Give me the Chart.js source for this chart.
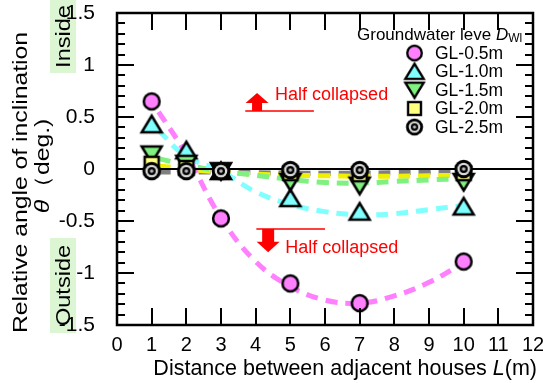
<!DOCTYPE html>
<html><head><meta charset="utf-8">
<script src="https://cdn.jsdelivr.net/npm/chart.js@4.4.0/dist/chart.umd.min.js"></script>
<style>html,body{margin:0;padding:0;background:#fff}canvas{display:block}</style>
</head><body>
<canvas id="c" width="543" height="383"></canvas>
<script>
// ---- data ----
const distances = [1, 2, 3, 5, 7, 10];
const gl05 = [0.65, null, -0.475, -1.10, -1.29, -0.89];
const gl10 = [0.43, 0.18, -0.02, -0.28, -0.41, -0.36];
const gl15 = [0.14, 0.05, -0.02, -0.125, -0.16, -0.125];
const gl20 = [0.05, 0.01, -0.02, -0.04, -0.05, -0.04];
const gl25 = [-0.02, -0.02, -0.02, -0.01, -0.01, 0.0];

// dashed trend curves
const fitX = [1.2, 2, 3, 4, 5, 6, 7, 8, 9, 10];
const fit05 = [0.55, 0.14, -0.47, -0.89, -1.13, -1.26, -1.29, -1.22, -1.09, -0.90];
const fit10 = [0.37, 0.12, -0.02, -0.22, -0.34, -0.41, -0.44, -0.43, -0.39, -0.35];
const fit15 = [0.10, 0.04, -0.02, -0.06, -0.10, -0.13, -0.135, -0.12, -0.105, -0.09];
const fit20 = [0.03, 0.00, -0.03, -0.05, -0.06, -0.065, -0.07, -0.07, -0.065, -0.06];
const fit25 = [-0.03, -0.03, -0.03, -0.035, -0.04, -0.04, -0.04, -0.035, -0.03, -0.025];

const seriesLabels = ['GL-0.5m', 'GL-1.0m', 'GL-1.5m', 'GL-2.0m', 'GL-2.5m'];
const xTicks = [0, 1, 2, 3, 4, 5, 6, 7, 8, 9, 10, 11, 12];
const yTicks = [-1.5, -1, -0.5, 0, 0.5, 1, 1.5];
const annoText = 'Half collapsed';

const FONT = '"Liberation Sans", Arial, Helvetica, sans-serif';

function makeMarker(kind, fill) {
  const s = 30, c = s / 2;
  const cv = document.createElement('canvas'); cv.width = s; cv.height = s;
  const g = cv.getContext('2d');
  g.lineWidth = 2.5; g.strokeStyle = '#000'; g.fillStyle = fill; g.lineJoin = 'miter';
  if (kind === 'target') {
    g.fillStyle = '#000'; g.beginPath(); g.arc(c, c, 9.3, 0, Math.PI * 2); g.fill();
    g.fillStyle = '#d8d8d8'; g.beginPath(); g.arc(c, c, 6.3, 0, Math.PI * 2); g.fill();
    g.fillStyle = '#000'; g.beginPath(); g.arc(c, c, 4.0, 0, Math.PI * 2); g.fill();
    g.fillStyle = '#b8b8b8'; g.beginPath(); g.arc(c, c, 1.8, 0, Math.PI * 2); g.fill();
    return cv;
  }
  g.beginPath();
  if (kind === 'circle') g.arc(c, c, 7.9, 0, Math.PI * 2);
  else if (kind === 'tri') { g.moveTo(c, c - 8.5); g.lineTo(c + 10, c + 8); g.lineTo(c - 10, c + 8); g.closePath(); }
  else if (kind === 'dtri') { g.moveTo(c, c + 8.5); g.lineTo(c + 10, c - 8); g.lineTo(c - 10, c - 8); g.closePath(); }
  else if (kind === 'square') g.rect(c - 7, c - 7, 14, 14);
  g.fill(); g.stroke();
  return cv;
}

const markerColors = ['#ff80ff', '#80ffff', '#80f080', '#ffff80', '#000'];
const lineColors = ['#ff80ff', '#80ffff', '#80f080', '#f0f000', '#808080'];
const kinds = ['circle', 'tri', 'dtri', 'square', 'target'];
const markers = kinds.map((k, i) => makeMarker(k, markerColors[i]));
const series = [gl05, gl10, gl15, gl20, gl25];
const fits = [fit05, fit10, fit15, fit20, fit25];

const datasets = [];
series.forEach((arr, i) => {
  datasets.push({
    label: seriesLabels[i],
    data: distances.map((x, j) => ({ x: x, y: arr[j] })).filter(p => p.y !== null),
    showLine: false, pointStyle: markers[i], pointRadius: 9, order: 5 - i
  });
});
fits.forEach((arr, i) => {
  datasets.push({
    label: seriesLabels[i] + ' fit',
    data: fitX.map((x, j) => ({ x: x, y: arr[j] })),
    borderColor: lineColors[i], borderWidth: 5, borderDash: [12, 8], borderCapStyle: 'butt',
    pointRadius: 0, tension: 0.4, fill: false, order: 100 + i
  });
});
datasets.push({
  label: 'zero', data: [{ x: 0, y: 0 }, { x: 12, y: 0 }],
  borderColor: '#000', borderWidth: 2, pointRadius: 0, order: 50
});

function drawParts(ctx, parts, x, y, align) {
  let w = 0;
  parts.forEach(p => { ctx.font = p.font; w += ctx.measureText(p.text).width; });
  let cx = align === 'right' ? x - w : (align === 'center' ? x - w / 2 : x);
  parts.forEach(p => {
    ctx.font = p.font;
    ctx.fillText(p.text, cx, y + (p.dy || 0));
    cx += ctx.measureText(p.text).width;
  });
  return w;
}
function partsWidth(ctx, parts) {
  let w = 0; parts.forEach(p => { ctx.font = p.font; w += ctx.measureText(p.text).width; }); return w;
}

const decor = {
  id: 'decor',
  beforeDraw(chart) {
    const ctx = chart.ctx;
    ctx.save();
    ctx.fillStyle = '#dcf6d4';
    ctx.fillRect(50, 0, 26, 73);
    ctx.fillRect(50, 238, 26, 95);
    ctx.restore();
  },
  afterDraw(chart) {
    const ctx = chart.ctx, a = chart.chartArea, xs = chart.scales.x, ys = chart.scales.y;
    ctx.save();
    ctx.strokeStyle = '#000'; ctx.fillStyle = '#000';
    // ticks
    ctx.lineWidth = 2;
    ctx.beginPath();
    xTicks.forEach(v => {
      const px = Math.round(xs.getPixelForValue(v));
      ctx.moveTo(px, a.bottom); ctx.lineTo(px, a.bottom - 17);
      ctx.moveTo(px, a.top); ctx.lineTo(px, a.top + 17);
    });
    for (let k = -15; k <= 15; k++) {
      const v = k / 10;
      const py = Math.round(ys.getPixelForValue(v));
      const len = (k % 5 === 0) ? 17 : 8;
      ctx.moveTo(a.left, py); ctx.lineTo(a.left + len, py);
      ctx.moveTo(a.right, py); ctx.lineTo(a.right - len, py);
    }
    ctx.stroke();
    // frame
    ctx.lineWidth = 2.5;
    ctx.strokeRect(a.left, a.top, a.right - a.left, a.bottom - a.top);

    // x title
    ctx.textBaseline = 'middle';
    const xf = '21.5px ' + FONT, xfi = 'italic 21.5px ' + FONT;
    drawParts(ctx, [{ text: 'Distance between adjacent houses ', font: xf }, { text: 'L', font: xfi }, { text: '(m)', font: xf }], 537, 369, 'right');

    // y title (rotated)
    const yf = '21px ' + FONT, yfi = 'italic 21px ' + FONT;
    const line1 = [{ text: 'Relative angle of inclination', font: yf }];
    const line2 = [{ text: 'θ', font: yfi }, { text: '（deg.)', font: yf }];
    const k = 301 / partsWidth(ctx, line1);
    function rotated(parts, cx, cy) {
      ctx.save();
      ctx.translate(cx, cy); ctx.rotate(-Math.PI / 2); ctx.scale(k, 1);
      ctx.textBaseline = 'middle';
      drawParts(ctx, parts, 0, 1, 'center');
      ctx.restore();
    }
    rotated(line1, 20, 182.5);
    rotated(line2, 42, 166);
    const bf = '20px ' + FONT;
    rotated([{ text: 'Inside', font: bf }], 63, 36.5);
    rotated([{ text: 'Outside', font: bf }], 63, 285.5);

    // legend
    ctx.fillStyle = '#000';
    const lf = '17.5px ' + FONT;
    drawParts(ctx, [{ text: 'Groundwater leve ', font: '17px ' + FONT }, { text: 'D', font: 'italic 17px ' + FONT }, { text: 'Wl', font: '12px ' + FONT, dy: 4 }], 357, 35, 'left');
    seriesLabels.forEach((lab, i) => {
      const yy = 53 + i * 18.5;
      const m = markers[i], sc = 0.92;
      ctx.drawImage(m, 414.5 - m.width * sc / 2, yy - m.height * sc / 2, m.width * sc, m.height * sc);
      ctx.font = lf; ctx.fillStyle = '#000';
      ctx.fillText(lab, 435, yy + 1);
    });

    // annotations
    ctx.fillStyle = '#ff0000'; ctx.strokeStyle = '#ff0000';
    const af = '18px ' + FONT;
    // upper
    let ly = ys.getPixelForValue(0.558);
    ctx.lineWidth = 1.5;
    ctx.beginPath(); ctx.moveTo(xs.getPixelForValue(3.70), ly); ctx.lineTo(xs.getPixelForValue(5.68), ly); ctx.stroke();
    let ax = xs.getPixelForValue(4.04);
    let tip = ys.getPixelForValue(0.73), base = ys.getPixelForValue(0.635);
    ctx.beginPath(); ctx.moveTo(ax, tip); ctx.lineTo(ax + 11.5, base); ctx.lineTo(ax - 11.5, base); ctx.closePath(); ctx.fill();
    ctx.fillRect(ax - 5, base - 0.5, 10, ly - base + 0.5);
    ctx.font = af; ctx.textBaseline = 'middle';
    ctx.fillText(annoText, xs.getPixelForValue(4.56), ys.getPixelForValue(0.71));
    // lower
    ly = ys.getPixelForValue(-0.577);
    ctx.beginPath(); ctx.moveTo(xs.getPixelForValue(4.02), ly); ctx.lineTo(xs.getPixelForValue(6.0), ly); ctx.stroke();
    ax = xs.getPixelForValue(4.36);
    tip = ys.getPixelForValue(-0.80); base = ys.getPixelForValue(-0.70);
    ctx.fillRect(ax - 6, ly, 12, base - ly + 0.5);
    ctx.beginPath(); ctx.moveTo(ax, tip); ctx.lineTo(ax + 11.5, base); ctx.lineTo(ax - 11.5, base); ctx.closePath(); ctx.fill();
    ctx.fillText(annoText, xs.getPixelForValue(4.85), ys.getPixelForValue(-0.76));
    ctx.restore();
  }
};

new Chart(document.getElementById('c').getContext('2d'), {
  type: 'line',
  data: { datasets: datasets },
  options: {
    responsive: false, animation: false, events: [],
    layout: { padding: { top: 13, right: 5, left: 0, bottom: 0 } },
    plugins: { legend: { display: false }, tooltip: { enabled: false } },
    scales: {
      x: {
        type: 'linear', min: 0, max: 12,
        afterBuildTicks: s => { s.ticks = xTicks.map(v => ({ value: v })); },
        ticks: { font: { family: FONT, size: 20 }, color: '#000', padding: 0, maxRotation: 0, autoSkip: false, callback: v => String(v) },
        grid: { display: false }, border: { display: false },
        afterFit: s => { s.height = 58; s.paddingLeft = 0; s.paddingRight = 0; }
      },
      y: {
        type: 'linear', min: -1.5, max: 1.5,
        afterBuildTicks: s => { s.ticks = yTicks.map(v => ({ value: v })); },
        ticks: { font: { family: FONT, size: 21 }, color: '#000', padding: 14, autoSkip: false, callback: v => String(v) },
        grid: { display: false }, border: { display: false },
        afterFit: s => { s.width = 117; s.paddingTop = 0; s.paddingBottom = 0; }
      }
    }
  },
  plugins: [decor]
});
</script>
</body></html>
